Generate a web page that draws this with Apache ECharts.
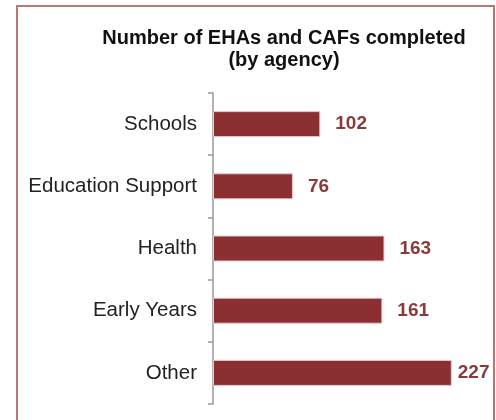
<!DOCTYPE html>
<html>
<head>
<meta charset="utf-8">
<script src="https://cdn.jsdelivr.net/npm/echarts@6/dist/echarts.min.js"></script>
<style>
html,body{margin:0;padding:0;background:#fff;}
#c{width:496px;height:420px;}
</style>
</head>
<body>
<div id="c"></div>
<script>
var categories = ["Schools", "Education Support", "Health", "Early Years", "Other"];
var values = [102, 76, 163, 161, 227];
var titleLines = ["Number of EHAs and CAFs completed", "(by agency)"];

var seriesData = values.map(function (v, i) {
  var item = {value: v};
  if (i === values.length - 1) item.label = {distance: 6};
  return item;
});

var chart = echarts.init(document.getElementById('c'), null, {renderer: 'canvas'});
chart.setOption({
  animation: false,
  backgroundColor: '#ffffff',
  title: {
    text: titleLines.join('\n'),
    left: 279,
    textAlign: 'center',
    top: 22,
    textStyle: {
      fontFamily: 'Liberation Sans, Arial, sans-serif',
      fontSize: 20,
      fontWeight: 'bold',
      color: '#111',
      lineHeight: 22
    }
  },
  graphic: [{
    type: 'rect',
    shape: {x: 17, y: 6, width: 477, height: 430},
    style: {fill: 'none', stroke: '#c07474', lineWidth: 2},
    silent: true
  }],
  grid: {left: 213, top: 93, width: 263, height: 311, containLabel: false},
  xAxis: {
    type: 'value',
    min: 0,
    max: 250,
    show: false
  },
  yAxis: {
    type: 'category',
    data: categories,
    inverse: true,
    axisLine: {show: true, lineStyle: {color: '#999', width: 1.5}},
    axisTick: {show: true, inside: false, length: 5, lineStyle: {color: '#999', width: 1.5}},
    axisLabel: {
      margin: 16,
      fontFamily: 'Liberation Sans, Arial, sans-serif',
      fontSize: 20.5,
      color: '#222'
    },
    splitLine: {show: false}
  },
  series: [{
    type: 'bar',
    data: seriesData,
    barWidth: 26,
    itemStyle: {color: '#8b2f32', borderColor: '#e8c8c8', borderWidth: 1},
    label: {
      show: true,
      position: 'right',
      distance: 15,
      fontFamily: 'Liberation Sans, Arial, sans-serif',
      fontSize: 19,
      fontWeight: 'bold',
      color: '#8b3a3a'
    }
  }]
});
</script>
</body>
</html>
